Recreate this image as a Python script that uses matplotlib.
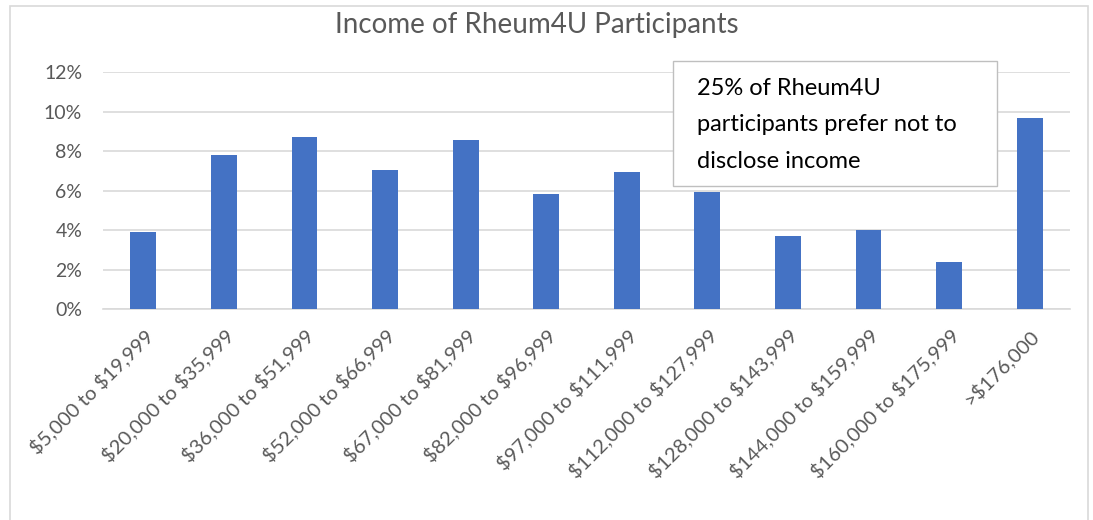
import matplotlib.pyplot as plt
from matplotlib.patches import Rectangle
from matplotlib.ticker import PercentFormatter

plt.rcParams['font.family'] = ['Lato', 'DejaVu Sans']
plt.rcParams['text.parse_math'] = False

# income brackets and share of participants
categories = ["$5,000 to $19,999", "$20,000 to $35,999", "$36,000 to $51,999",
              "$52,000 to $66,999", "$67,000 to $81,999", "$82,000 to $96,999",
              "$97,000 to $111,999", "$112,000 to $127,999", "$128,000 to $143,999",
              "$144,000 to $159,999", "$160,000 to $175,999", ">$176,000"]
shares = [0.039, 0.078, 0.087, 0.0705, 0.0857, 0.0585,
          0.0695, 0.0595, 0.037, 0.040, 0.024, 0.097]
yticks = [0, 0.02, 0.04, 0.06, 0.08, 0.10, 0.12]
note = "25% of Rheum4U\nparticipants prefer not to\ndisclose income"

W, H = 1093, 520
fig = plt.figure(figsize=(W / 100, H / 100), dpi=100)

# outer chart border (bottom runs off the picture)
fig.patches.append(Rectangle((10 / W, -0.05), (1088 - 10) / W, 1.05 - 6 / H,
                             transform=fig.transFigure, fill=False,
                             edgecolor="#d9d9d9", linewidth=1.2))

ax = fig.add_axes([103 / W, (H - 309.3) / H, (1070 - 103) / W, (309.3 - 72.3) / H])
x = range(len(categories))
ax.bar(x, shares, width=0.32, color="#4472c4", zorder=3)

ax.set_xlim(-0.5, len(categories) - 0.5)
ax.set_ylim(0, 0.12)
ax.set_yticks(yticks)
ax.yaxis.set_major_formatter(PercentFormatter(1.0, decimals=0))
ax.grid(axis="y", color="#d9d9d9", linewidth=1.2, zorder=0)
for s in ["top", "right", "left"]:
    ax.spines[s].set_visible(False)
ax.spines["bottom"].set_color("#d9d9d9")
ax.spines["bottom"].set_linewidth(1.2)
ax.tick_params(length=0, colors="#595959", labelsize=14)
ax.tick_params(axis="y", pad=15)
ax.set_xticks(list(x))
ax.set_xticklabels(categories, rotation=45, ha="right", rotation_mode="anchor")
ax.tick_params(axis="x", pad=12, labelsize=14.5)

fig.text(537 / W, 1 - 25 / H, "Income of Rheum4U Participants",
         ha="center", va="center", fontsize=20, color="#595959")

# note box
fig.patches.append(Rectangle((673 / W, 1 - 186 / H), (997 - 673) / W, (186 - 61) / H,
                             transform=fig.transFigure, facecolor="white",
                             edgecolor="#bfbfbf", linewidth=1, zorder=5))
fig.text(697 / W, 1 - 78 / H, note, ha="left", va="top", fontsize=17,
         color="black", linespacing=1.9, zorder=6)

fig.savefig("out.png", dpi=100)
